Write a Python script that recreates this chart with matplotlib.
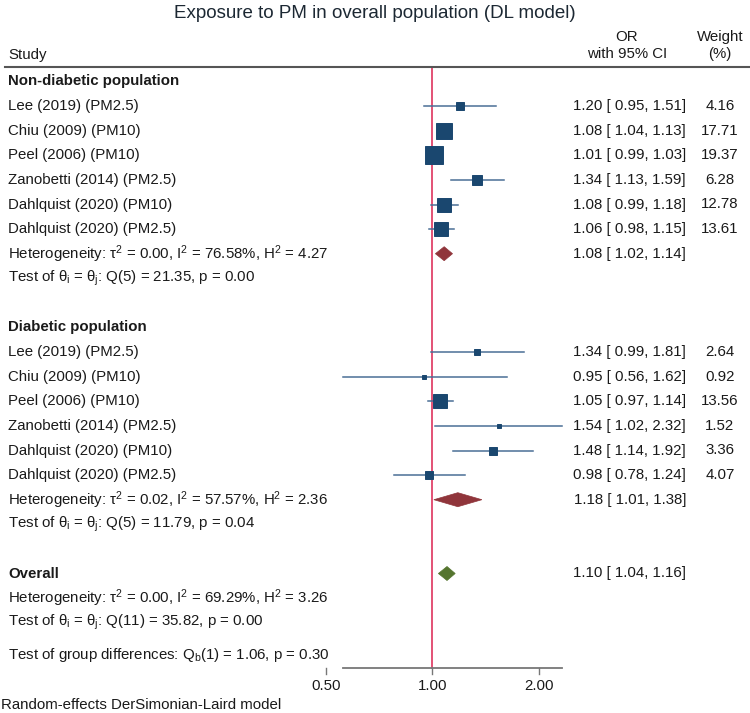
import numpy as np
import matplotlib.pyplot as plt
from matplotlib.patches import Polygon
from matplotlib.transforms import blended_transform_factory

plt.rcParams['font.family'] = ['Liberation Sans', 'DejaVu Sans']
plt.rcParams['mathtext.fontset'] = 'custom'
plt.rcParams['mathtext.rm'] = 'Liberation Sans'
plt.rcParams['mathtext.it'] = 'Liberation Sans:italic'
plt.rcParams['mathtext.bf'] = 'Liberation Sans:bold'

# data
studies = ['Lee (2019) (PM2.5)', 'Chiu (2009) (PM10)', 'Peel (2006) (PM10)',
           'Zanobetti (2014) (PM2.5)', 'Dahlquist (2020) (PM10)', 'Dahlquist (2020) (PM2.5)']
groups = ['Non-diabetic population', 'Diabetic population']

nd_or = [1.20, 1.08, 1.01, 1.34, 1.08, 1.06]
nd_lo = [0.95, 1.04, 0.99, 1.13, 0.99, 0.98]
nd_hi = [1.51, 1.13, 1.03, 1.59, 1.18, 1.15]
nd_w = [4.16, 17.71, 19.37, 6.28, 12.78, 13.61]

d_or = [1.34, 0.95, 1.05, 1.54, 1.48, 0.98]
d_lo = [0.99, 0.56, 0.97, 1.02, 1.14, 0.78]
d_hi = [1.81, 1.62, 1.14, 2.32, 1.92, 1.24]
d_w = [2.64, 0.92, 13.56, 1.52, 3.36, 4.07]

sub_or = [1.08, 1.18]
sub_lo = [1.02, 1.01]
sub_hi = [1.14, 1.38]

all_or, all_lo, all_hi = 1.10, 1.04, 1.16

het_txt = ['Heterogeneity: $\\mathrm{\\tau}^2$ = 0.00, $\\mathrm{I}^2$ = 76.58%, $\\mathrm{H}^2$ = 4.27',
           'Heterogeneity: $\\mathrm{\\tau}^2$ = 0.02, $\\mathrm{I}^2$ = 57.57%, $\\mathrm{H}^2$ = 2.36']
test_txt = ['Test of $\\mathrm{\\theta_i}$ = $\\mathrm{\\theta_j}$: Q(5) = 21.35, p = 0.00',
            'Test of $\\mathrm{\\theta_i}$ = $\\mathrm{\\theta_j}$: Q(5) = 11.79, p = 0.04']
all_het = 'Heterogeneity: $\\mathrm{\\tau}^2$ = 0.00, $\\mathrm{I}^2$ = 69.29%, $\\mathrm{H}^2$ = 3.26'
all_test = 'Test of $\\mathrm{\\theta_i}$ = $\\mathrm{\\theta_j}$: Q(11) = 35.82, p = 0.00'
grp_test = 'Test of group differences: $\\mathrm{Q_b}$(1) = 1.06, p = 0.30'

ticks = [0.5, 1.0, 2.0]
tick_labels = ['0.50', '1.00', '2.00']

W, H = 750, 713
fig = plt.figure(figsize=(W / 100, H / 100), dpi=100)
ax = fig.add_axes([0, 0, 1, 1])
ax.set_xscale('log')
# 0.50 at px 325.7, 2.00 at px 539
ppd = (539 - 325.7) / 2.0
ax.set_xlim(0.5 * 2 ** (-325.7 / ppd), 2.0 * 2 ** ((W - 539) / ppd))
row0, step = 81.5, 24.6
ax.set_ylim((H - row0) / step, -row0 / step)
ax.axis('off')

def px(x):
    return x / W

def rowy(p):
    return (p - row0) / step

tr = blended_transform_factory(ax.transAxes, ax.transData)
fs = 10.8
tc = '#1a1a1a'
navy = '#1a476f'

fig.text(0.5, 1 - 14 / H, 'Exposure to PM in overall population (DL model)',
         ha='center', va='center', fontsize=13.5, color='#1c2833')

# header
ax.text(px(8), rowy(55), 'Study', transform=tr, ha='left', va='center', fontsize=fs, color=tc)
ax.text(px(627), rowy(37), 'OR', transform=tr, ha='center', va='center', fontsize=fs, color=tc)
ax.text(px(627), rowy(54), 'with 95% CI', transform=tr, ha='center', va='center', fontsize=fs, color=tc)
ax.text(px(720), rowy(37), 'Weight', transform=tr, ha='center', va='center', fontsize=fs, color=tc)
ax.text(px(720), rowy(54), '(%)', transform=tr, ha='center', va='center', fontsize=fs, color=tc)
line_y = rowy(67)
ax.plot([px(5), px(750)], [line_y, line_y], transform=tr, color='#555555', lw=1.5)

axis_y = rowy(668)
ax.plot([1, 1], [line_y, axis_y], color='#e0436a', lw=1.3, zorder=1)

def ci_text(o, lo, hi):
    return f'{o:.2f} [ {lo:.2f}, {hi:.2f}]'

def diamond(o, lo, hi, y, color):
    h = 0.285
    poly = Polygon([(lo, y), (o, y - h), (hi, y), (o, y + h)], closed=True,
                   facecolor=color, edgecolor=color, lw=0.5, zorder=3)
    ax.add_patch(poly)

blocks = [(nd_or, nd_lo, nd_hi, nd_w, 0), (d_or, d_lo, d_hi, d_w, 10)]
sub_colors = ['#90353b', '#90353b']
for g, (o_, lo_, hi_, w_, start) in enumerate(blocks):
    ax.text(px(8), start, groups[g], transform=tr, ha='left', va='center',
            fontsize=fs, fontweight='bold', color=tc)
    for i in range(len(studies)):
        y = start + 1 + i
        ax.text(px(8), y, studies[i], transform=tr, ha='left', va='center', fontsize=fs, color=tc)
        ax.plot([lo_[i], hi_[i]], [y, y], color='#4a6f96', lw=1.1, zorder=2)
        side = 4.0 * np.sqrt(w_[i]) * 0.72
        ax.plot(o_[i], y, marker='s', ms=side, color=navy, mec=navy, mew=0.7, zorder=4)
        ax.text(px(686), y, ci_text(o_[i], lo_[i], hi_[i]), transform=tr, ha='right',
                va='center', fontsize=fs, color=tc)
        ax.text(px(720), y, f'{w_[i]:.2f}', transform=tr, ha='center', va='center',
                fontsize=fs, color=tc)
    y = start + 7
    ax.text(px(8), y, het_txt[g], transform=tr, ha='left', va='center', fontsize=fs, color=tc)
    diamond(sub_or[g], sub_lo[g], sub_hi[g], y, sub_colors[g])
    ax.text(px(686), y, ci_text(sub_or[g], sub_lo[g], sub_hi[g]), transform=tr, ha='right',
            va='center', fontsize=fs, color=tc)
    ax.text(px(8), start + 8, test_txt[g], transform=tr, ha='left', va='center', fontsize=fs, color=tc)

# overall
ax.text(px(8), 20, 'Overall', transform=tr, ha='left', va='center', fontsize=fs,
        fontweight='bold', color=tc)
diamond(all_or, all_lo, all_hi, 20, '#55752f')
ax.text(px(686), 20, ci_text(all_or, all_lo, all_hi), transform=tr, ha='right',
        va='center', fontsize=fs, color=tc)
ax.text(px(8), 21, all_het, transform=tr, ha='left', va='center', fontsize=fs, color=tc)
ax.text(px(8), 22, all_test, transform=tr, ha='left', va='center', fontsize=fs, color=tc)
ax.text(px(8), rowy(655), grp_test, transform=tr, ha='left', va='center',
        fontsize=fs, color=tc)

# x axis
xmin = min(nd_lo + d_lo)
xmax = max(nd_hi + d_hi)
ax.plot([xmin, xmax], [axis_y, axis_y], color='#777777', lw=1.3, zorder=1)
tick_end = rowy(674)
lab_y = rowy(686)
for t, lab in zip(ticks, tick_labels):
    ax.plot([t, t], [axis_y, tick_end], color='#777777', lw=1.0)
    ax.text(t, lab_y, lab, ha='center', va='center', fontsize=fs, color=tc)

fig.text(px(1), 1 - 705 / H, 'Random-effects DerSimonian-Laird model', ha='left',
         va='center', fontsize=fs, color=tc)

fig.savefig('out.png', dpi=100, facecolor='white')
